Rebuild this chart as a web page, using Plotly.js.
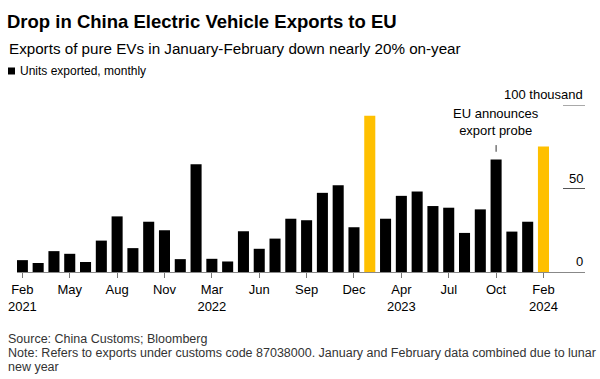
<!DOCTYPE html>
<html>
<head>
<meta charset="utf-8">
<script src="https://cdn.plot.ly/plotly-3.0.1.min.js"></script>
<style>
html,body{margin:0;padding:0;background:#fff;}
#chart{width:600px;height:379px;}
</style>
</head>
<body>
<div id="chart"></div>
<script>
// Periods (January is combined with February each year)
const periods = [
  "Feb 2021","Mar 2021","Apr 2021","May 2021","Jun 2021","Jul 2021","Aug 2021","Sep 2021","Oct 2021","Nov 2021","Dec 2021",
  "Feb 2022","Mar 2022","Apr 2022","May 2022","Jun 2022","Jul 2022","Aug 2022","Sep 2022","Oct 2022","Nov 2022","Dec 2022",
  "Feb 2023","Mar 2023","Apr 2023","May 2023","Jun 2023","Jul 2023","Aug 2023","Sep 2023","Oct 2023","Nov 2023","Dec 2023",
  "Feb 2024"
];
// Units exported, thousands
const unitsThousand = [
  7.1, 5.4, 12.5, 10.9, 6.0, 18.8, 33.3, 14.3, 30.1, 25.0, 7.7,
  64.5, 7.9, 6.3, 24.4, 13.9, 20.0, 31.9, 31.0, 47.4, 52.0, 26.8,
  93.6, 31.9, 45.6, 48.2, 39.5, 38.5, 23.4, 37.5, 67.3, 24.2, 30.1,
  75.2
];
const highlighted = ["Feb 2023", "Feb 2024"];
const tickPeriods = ["Feb 2021","May 2021","Aug 2021","Nov 2021","Mar 2022","Jun 2022","Sep 2022","Dec 2022","Apr 2023","Jul 2023","Oct 2023","Feb 2024"];
const tickLabels = ["Feb<br>2021","May","Aug","Nov","Mar<br>2022","Jun","Sep","Dec","Apr<br>2023","Jul","Oct","Feb<br>2024"];
const yTickVals = [0, 50, 100];
const yTickText = ["0", "50", "100 thousand"];
const eventPeriod = "Oct 2023";
const eventText = "EU announces<br>export probe";
const footerLines = [
  "Source: China Customs; Bloomberg",
  "Note: Refers to exports under customs code 87038000. January and February data combined due to lunar",
  "new year"
];

const barColors = periods.map(p => highlighted.includes(p) ? "#ffc000" : "#000000");

const FONT = "Liberation Sans, Arial, sans-serif";
const L = 17, R = 15, T = 105, B = 107, W = 600, H = 379;
const pw = W - L - R, ph = H - T - B;
const px = x => (x - L) / pw;
const py = y => (H - B - y) / ph;

const annotations = [];
const shapes = [];

// y labels + short grid segments at right
yTickVals.forEach((v, i) => {
  annotations.push({xref: "paper", yref: "y", x: 1, y: v, xanchor: "right", yanchor: "bottom",
    yshift: 1, text: yTickText[i], showarrow: false, font: {family: FONT, size: 13, color: "#000"}});
  if (v !== 0) {
    shapes.push({type: "line", xref: "paper", yref: "y", x0: px(563), x1: 1, y0: v, y1: v,
      line: {color: "#555", width: 1}});
  }
});

// Event annotation
const evIdx = periods.indexOf(eventPeriod);
annotations.push({xref: "x", yref: "y", x: evIdx, y: 90, xanchor: "center", yanchor: "middle",
  text: eventText, showarrow: false, font: {family: FONT, size: 13, color: "#000"}});
shapes.push({type: "line", xref: "x", yref: "y", x0: evIdx, x1: evIdx, y0: 72, y1: 76,
  line: {color: "#333", width: 1}});

// Subtitle
annotations.push({xref: "paper", yref: "paper", x: px(7), y: py(48), xanchor: "left", yanchor: "middle",
  text: "Exports of pure EVs in January-February down nearly 20% on-year", showarrow: false,
  font: {family: FONT, size: 15.2, color: "#000"}});
// Legend
shapes.push({type: "rect", xref: "paper", yref: "paper", x0: px(8), x1: px(15), y0: py(67.5), y1: py(74.5),
  fillcolor: "#000", line: {width: 0}});
annotations.push({xref: "paper", yref: "paper", x: px(18), y: py(71), xanchor: "left", yanchor: "middle",
  text: "Units exported, monthly", showarrow: false, font: {family: FONT, size: 12, color: "#000"}});
// Footer
footerLines.forEach((t, i) => {
  annotations.push({xref: "paper", yref: "paper", x: px(6), y: py(339 + 14 * i), xanchor: "left", yanchor: "middle",
    align: "left", text: t, showarrow: false, font: {family: FONT, size: 12.5, color: "#333"}});
});

const trace = {
  type: "bar",
  x: periods,
  y: unitsThousand,
  marker: {color: barColors, line: {width: 0}},
  hoverinfo: "x+y"
};

const layout = {
  width: W, height: H,
  margin: {l: L, r: R, t: T, b: B, pad: 0},
  paper_bgcolor: "#fff", plot_bgcolor: "#fff",
  showlegend: false,
  bargap: 0.3,
  title: {text: "<b>Drop in China Electric Vehicle Exports to EU</b>", xref: "container", yref: "container",
    x: 7 / W, xanchor: "left", y: 1 - 22 / H, yanchor: "middle",
    font: {family: FONT, size: 18.5, color: "#000"}},
  xaxis: {
    type: "category",
    range: [-0.34, 35.63],
    tickmode: "array", tickvals: tickPeriods, ticktext: tickLabels,
    ticks: "outside", ticklen: 5, tickcolor: "#777", tickwidth: 1,
    showline: true, linecolor: "#888", linewidth: 1,
    showgrid: false, zeroline: false,
    tickfont: {family: FONT, size: 13, color: "#000"}
  },
  yaxis: {
    range: [0, 100],
    showticklabels: false, showgrid: false, zeroline: false, ticks: "", showline: false
  },
  annotations: annotations,
  shapes: shapes
};

Plotly.newPlot("chart", [trace], layout, {displayModeBar: false, staticPlot: true});
</script>
</body>
</html>
